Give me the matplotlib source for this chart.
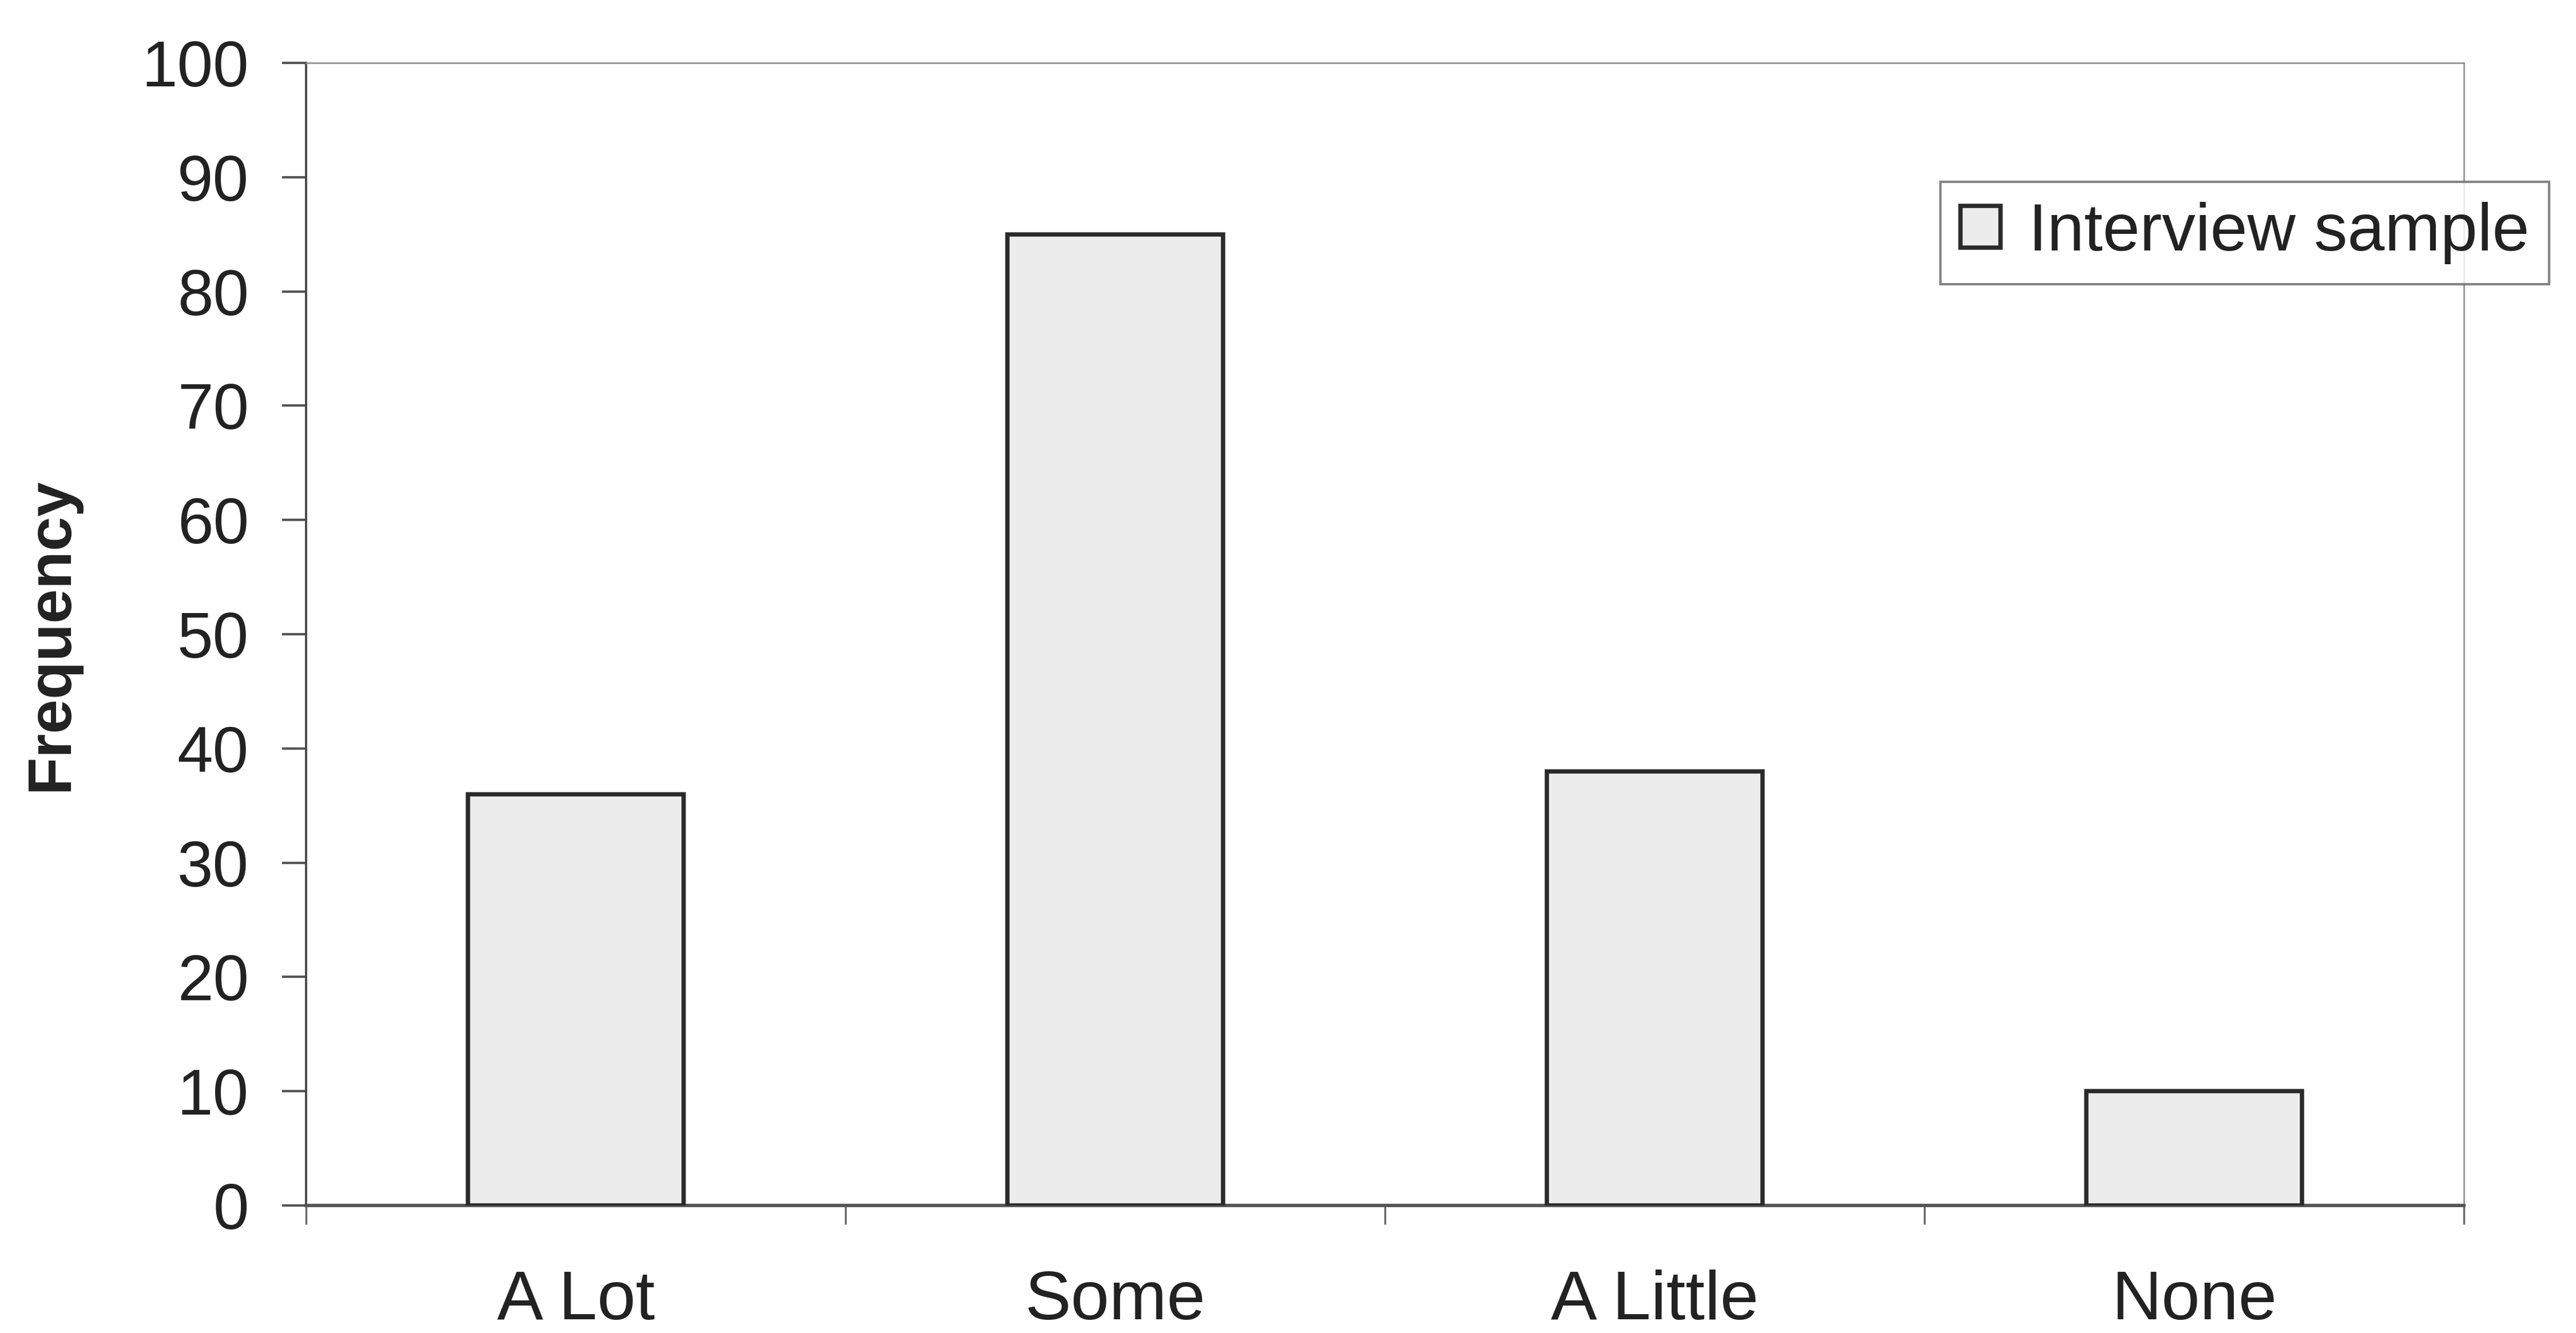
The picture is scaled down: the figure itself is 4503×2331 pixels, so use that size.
import numpy as np
import matplotlib.pyplot as plt

plt.rcParams['font.family'] = ['Liberation Sans', 'DejaVu Sans']

# Daten
categories = ['A Lot', 'Some', 'A Little', 'None']
frequency = [36, 85, 38, 10]
series_name = 'Interview sample'
y_ticks = np.arange(0, 101, 10)

fig = plt.figure(figsize=(15.01, 7.77), dpi=300)
ax = fig.add_axes([0.1188, 0.0957, 0.8377, 0.8571])

x_pos = np.arange(len(categories))
bars = ax.bar(x_pos, frequency, width=0.4, color='#ececec', edgecolor='#2a2a2a',
              linewidth=1.8, label=series_name, zorder=3)

ax.set_xlim(-0.5, len(categories) - 0.5)
ax.set_ylim(0, 100)

# y-Achse
ax.set_yticks(y_ticks)
ax.tick_params(axis='y', direction='out', length=10, width=1.0, color='#555555',
               labelsize=27, labelcolor='#222222', pad=14)

# x-Achse: Striche an den Kategoriegrenzen, Beschriftung in der Mitte
ax.set_xticks(np.arange(-0.5, len(categories), 1.0))
ax.set_xticklabels([])
ax.set_xticks(x_pos, minor=True)
ax.set_xticklabels(categories, minor=True)
ax.tick_params(axis='x', which='major', direction='out', length=8, width=0.8, color='#666666')
ax.tick_params(axis='x', which='minor', length=0, labelsize=29, labelcolor='#222222', pad=27)

ax.set_ylabel('Frequency', fontsize=26, fontweight='bold', color='#222222')
ax.yaxis.set_label_coords(-0.1047, 0.5)

for side in ['top', 'right']:
    ax.spines[side].set_color('#8a8a8a')
    ax.spines[side].set_linewidth(0.6)
ax.spines['left'].set_color('#444444')
ax.spines['left'].set_linewidth(0.9)
ax.spines['bottom'].set_color('#555555')
ax.spines['bottom'].set_linewidth(1.4)

leg = fig.legend(loc='upper left', bbox_to_anchor=(0.7533, 0.8636), fontsize=28,
                 frameon=True, fancybox=False, shadow=False, borderaxespad=0,
                 borderpad=0.3, handlelength=0.6, handleheight=0.58, handletextpad=0.42)
leg.get_frame().set_edgecolor('#666666')
leg.get_frame().set_linewidth(1.0)
for t in leg.get_texts():
    t.set_color('#222222')

fig.savefig('out.png', dpi=300)
